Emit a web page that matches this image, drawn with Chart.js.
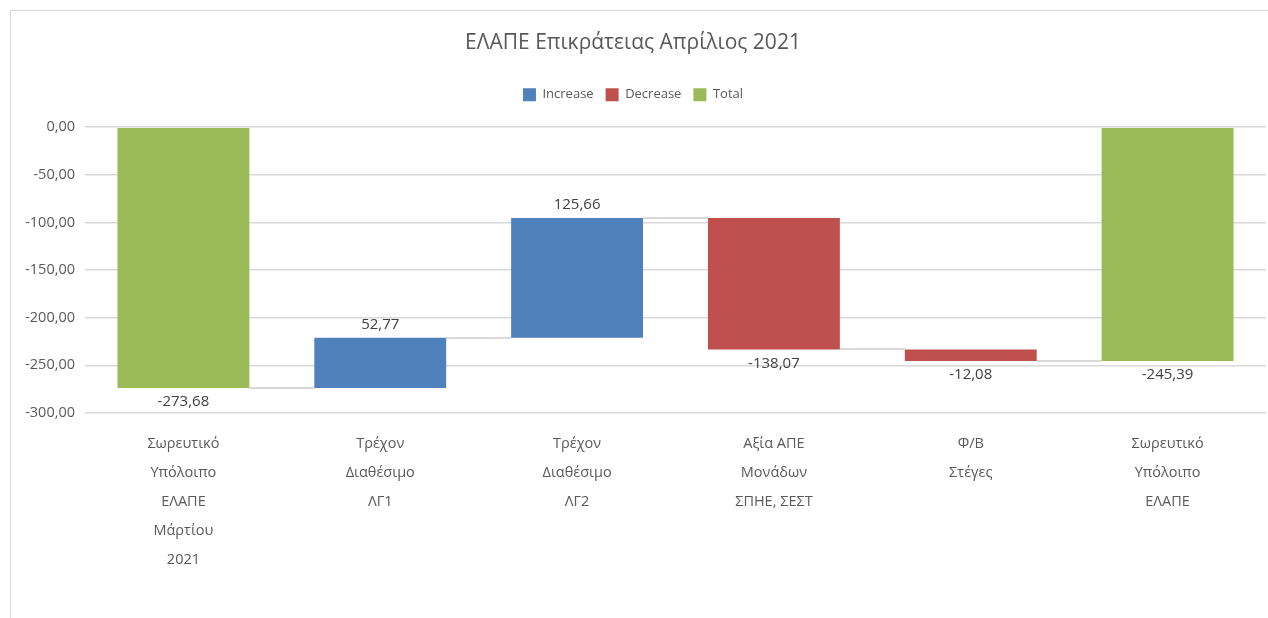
<!DOCTYPE html>
<html>
<head>
<meta charset="utf-8">
<script src="https://cdn.jsdelivr.net/npm/chart.js@4.4.1/dist/chart.umd.min.js"></script>
<style>
  html, body { margin: 0; padding: 0; background: #fff; }
  #wrap { width: 1268px; height: 618px; position: relative; }
</style>
</head>
<body>
<div id="wrap"><canvas id="waterfall"></canvas></div>
<script>
const categories = [
  ["Σωρευτικό", "Υπόλοιπο", "ΕΛΑΠΕ", "Μάρτίου", "2021"],
  ["Τρέχον", "Διαθέσιμο", "ΛΓ1"],
  ["Τρέχον", "Διαθέσιμο", "ΛΓ2"],
  ["Αξία ΑΠΕ", "Μονάδων", "ΣΠΗΕ, ΣΕΣΤ"],
  ["Φ/Β", "Στέγες"],
  ["Σωρευτικό", "Υπόλοιπο", "ΕΛΑΠΕ"]
];
const changes = [-273.68, 52.77, 125.66, -138.07, -12.08, -245.39];
const kinds = ["total", "increase", "increase", "decrease", "decrease", "total"];
const yTicks = [0, -50, -100, -150, -200, -250, -300];

const FONT = "'Open Sans', sans-serif";
const TEXT = "#595959";
const colors = { increase: "#4f81bd", decrease: "#c0504d", total: "#9bbb59" };

function fmt(v) {
  return v.toFixed(2).replace(".", ",");
}

// build floating ranges from the running total
const ranges = [];
let running = 0;
changes.forEach((v, i) => {
  if (kinds[i] === "total") {
    ranges.push([0, v]);
    running = v;
  } else {
    ranges.push([running, running + v]);
    running = running + v;
  }
});

function seriesFor(kind) {
  return ranges.map((r, i) => (kinds[i] === kind ? r : null));
}

const frame = {
  id: "frame",
  beforeDraw(chart) {
    const ctx = chart.ctx;
    ctx.save();
    ctx.strokeStyle = "#d9d9d9";
    ctx.lineWidth = 1;
    ctx.strokeRect(10.5, 10.5, 1400, 800);
    ctx.restore();
  }
};

// extra room between legend and plot
const legendGap = {
  id: "legendGap",
  beforeInit(chart) {
    const fit = chart.legend.fit;
    chart.legend.fit = function () {
      fit.call(this);
      this.height += 16;
    };
  }
};

const connectors = {
  id: "connectors",
  beforeDatasetsDraw(chart) {
    const x = chart.scales.x, y = chart.scales.y;
    const ctx = chart.ctx;
    const step = x.getPixelForValue(1) - x.getPixelForValue(0);
    const bw = step * 0.67 / 2;
    ctx.save();
    ctx.strokeStyle = "#d9d9d9";
    ctx.lineWidth = 2;
    for (let i = 0; i < ranges.length - 1; i++) {
      const py = Math.round(y.getPixelForValue(ranges[i][1]));
      ctx.beginPath();
      ctx.moveTo(x.getPixelForValue(i) + bw, py);
      ctx.lineTo(x.getPixelForValue(i + 1) - bw, py);
      ctx.stroke();
    }
    ctx.restore();
  }
};

const valueLabels = {
  id: "valueLabels",
  afterDatasetsDraw(chart) {
    const x = chart.scales.x, y = chart.scales.y;
    const ctx = chart.ctx;
    ctx.save();
    ctx.font = "15px " + FONT;
    ctx.fillStyle = "#404040";
    ctx.textAlign = "center";
    ctx.textBaseline = "middle";
    ranges.forEach((r, i) => {
      const px = x.getPixelForValue(i);
      if (kinds[i] === "increase") {
        ctx.fillText(fmt(changes[i]), px, y.getPixelForValue(Math.max(r[0], r[1])) - 13);
      } else {
        ctx.fillText(fmt(changes[i]), px, y.getPixelForValue(Math.min(r[0], r[1])) + 14);
      }
    });
    ctx.restore();
  }
};

const ctx = document.getElementById("waterfall").getContext("2d");
new Chart(ctx, {
  type: "bar",
  data: {
    labels: categories,
    datasets: [
      { label: "Increase", data: seriesFor("increase"), backgroundColor: colors.increase },
      { label: "Decrease", data: seriesFor("decrease"), backgroundColor: colors.decrease },
      { label: "Total", data: seriesFor("total"), backgroundColor: colors.total }
    ]
  },
  options: {
    responsive: true,
    maintainAspectRatio: false,
    animation: false,
    skipNull: true,
    categoryPercentage: 0.67,
    barPercentage: 1,
    layout: { padding: { top: 30, right: 2, bottom: 36, left: 0 } },
    plugins: {
      title: {
        display: true,
        text: "ΕΛΑΠΕ Επικράτειας Απρίλιος 2021",
        color: TEXT,
        font: { family: FONT, size: 21, weight: "normal" },
        padding: { top: 0, bottom: 21 }
      },
      legend: {
        position: "top",
        labels: {
          color: TEXT,
          font: { family: FONT, size: 13 },
          boxWidth: 13,
          boxHeight: 13,
          padding: 12
        }
      },
      tooltip: { enabled: false }
    },
    scales: {
      x: {
        grid: { display: false },
        border: { display: false },
        ticks: {
          color: TEXT,
          font: { family: FONT, size: 14.5, lineHeight: 29 / 14.5 },
          padding: 8,
          maxRotation: 0
        }
      },
      y: {
        min: -300,
        max: 0,
        afterBuildTicks(scale) {
          scale.ticks = yTicks.map(v => ({ value: v }));
        },
        afterFit(scale) {
          scale.width = 85;
        },
        grid: { color: "#d9d9d9", lineWidth: 1.5, drawTicks: false },
        border: { display: false },
        ticks: {
          color: TEXT,
          font: { family: FONT, size: 14.5 },
          padding: 10,
          callback: v => fmt(v)
        }
      }
    }
  },
  plugins: [frame, legendGap, connectors, valueLabels]
});
</script>
</body>
</html>
